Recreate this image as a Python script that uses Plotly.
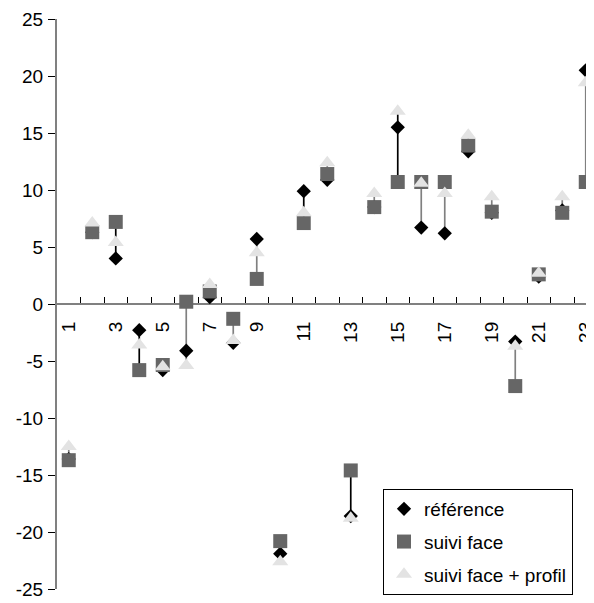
import plotly.graph_objects as go

# ---------------- data ----------------
categories = list(range(1, 24))
reference = [-13.6, 6.3, 4.0, -2.3, -5.8, -4.1, 0.6, -3.4, 5.7, -21.9, 9.9, 10.9,
             -18.6, 8.5, 15.5, 6.7, 6.2, 13.4, 8.0, -3.3, 2.4, 8.2, 20.5]
suivi_face = [-13.7, 6.3, 7.2, -5.8, -5.35, 0.2, 1.1, -1.3, 2.2, -20.8, 7.1, 11.4,
              -14.6, 8.5, 10.7, 10.7, 10.7, 13.9, 8.1, -7.2, 2.6, 8.0, 10.7]
suivi_face_profil = [-12.5, 7.1, 5.4, -3.6, -5.5, -5.4, 1.7, -3.2, 4.5, -22.6, 8.0, 12.4,
                     -18.8, 9.7, 16.9, 10.6, 9.7, 14.8, 9.4, -3.7, 2.7, 9.4, 19.4]
label_ticks = [1, 3, 5, 7, 9, 11, 13, 15, 17, 19, 21, 23]
y_ticks = [-25, -20, -15, -10, -5, 0, 5, 10, 15, 20, 25]

# ---------------- style ----------------
FONT = "Liberation Sans, Arial, sans-serif"
FS = 19
BLACK_LINE_CATS = {3, 4, 11, 13, 15}
BODY = 8  # default page body margin

fig = go.Figure()

# high-low connecting lines
for color, keep in (("#808080", False), ("#000000", True)):
    xs, ys = [], []
    for c, a, b, t in zip(categories, reference, suivi_face, suivi_face_profil):
        if (c in BLACK_LINE_CATS) == keep:
            xs += [c, c, None]
            ys += [min(a, b, t), max(a, b, t), None]
    fig.add_trace(go.Scatter(x=xs, y=ys, mode="lines", showlegend=False,
                             line=dict(color=color, width=1.7), hoverinfo="skip"))

fig.add_trace(go.Scatter(x=categories, y=reference, mode="markers", name="référence",
                         legendgroup="a",
                         marker=dict(symbol="diamond", size=11, color="#000000",
                                     line=dict(width=0))))
fig.add_trace(go.Scatter(x=categories, y=suivi_face, mode="markers", name="suivi face",
                         legendgroup="b",
                         marker=dict(symbol="square", size=14, color="#666666",
                                     line=dict(width=0))))
fig.add_trace(go.Scatter(x=categories, y=suivi_face_profil, mode="markers",
                         name="suivi face + profil", legendgroup="c",
                         marker=dict(symbol="triangle-up", size=14, color="#e3e3e3",
                                     line=dict(width=0))))
# invisible trace for the label axis
fig.add_trace(go.Scatter(x=[label_ticks[0]], y=[0], xaxis="x2", mode="markers",
                         marker=dict(opacity=0), showlegend=False, hoverinfo="skip"))

xr = [0.5, 0.5 + (594 - 57) / 23.5]

fig.update_layout(
    width=594 - BODY, height=603 - BODY,
    margin=dict(l=57 - BODY, r=0, t=19 - BODY, b=14),
    paper_bgcolor="white", plot_bgcolor="white",
    font=dict(family=FONT, size=FS, color="#000000"),
    xaxis=dict(range=xr, anchor="free", position=0.5, tickmode="linear", tick0=0.5, dtick=1,
               ticks="inside", ticklen=6, tickwidth=1, tickcolor="#000000",
               showticklabels=False, showline=True, linecolor="#808080", linewidth=2,
               showgrid=False, zeroline=False, layer="below traces", automargin=False),
    xaxis2=dict(range=xr, overlaying="x", anchor="free", position=0.5, side="bottom",
                tickmode="array", tickvals=label_ticks, ticktext=[str(v) for v in label_ticks],
                tickangle=-90, ticks="", showline=False, showgrid=False, zeroline=False,
                ticklabelstandoff=13, automargin=False, ticklabeloverflow="allow",
                tickfont=dict(family=FONT, size=FS, color="#000000")),
    yaxis=dict(range=[-25, 25], tickmode="array", tickvals=y_ticks,
               ticktext=[str(v) for v in y_ticks], ticks="outside", ticklen=7, tickwidth=1,
               tickcolor="#000000", showline=True, linecolor="#808080", linewidth=2,
               showgrid=False, zeroline=False, layer="below traces", automargin=False,
               ticklabelstandoff=1),
    yaxis2=dict(range=[-25, 25], overlaying="y", side="left", tickmode="array",
                tickvals=y_ticks, ticks="inside", ticklen=6, tickwidth=1, tickcolor="#000000",
                showticklabels=False, showline=False, showgrid=False, zeroline=False),
    legend=dict(x=(383 - 57) / 537, y=(589 - 489) / 570, xanchor="left", yanchor="top",
                bgcolor="white", bordercolor="#000000", borderwidth=1,
                font=dict(family=FONT, size=FS, color="#000000"),
                tracegroupgap=5, itemwidth=30),
    showlegend=True,
)

fig.write_html("out.html")
